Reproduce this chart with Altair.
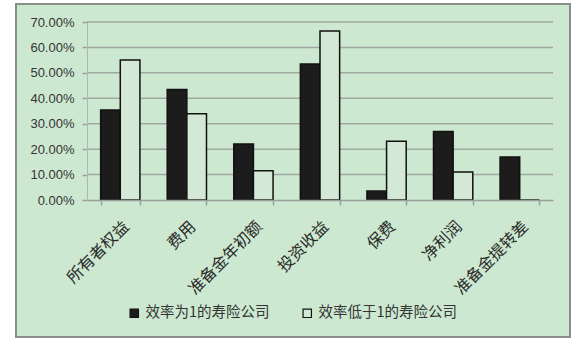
import altair as alt
import pandas as pd

categories = ["所有者权益", "费用", "准备金年初额", "投资收益", "保费", "净利润", "准备金提转差"]
series_names = ["效率为1的寿险公司", "效率低于1的寿险公司"]
eff_one = [0.354, 0.435, 0.220, 0.535, 0.035, 0.269, 0.169]
eff_low = [0.551, 0.339, 0.115, 0.665, 0.231, 0.110, 0.0]
y_ticks = [0.0, 0.1, 0.2, 0.3, 0.4, 0.5, 0.6, 0.7]

rows = []
for i, c in enumerate(categories):
    rows.append({"cat": c, "series": series_names[0], "value": eff_one[i]})
    rows.append({"cat": c, "series": series_names[1], "value": eff_low[i]})
df = pd.DataFrame(rows)

BG = "#cde8d0"
FONT_CJK = "Noto Sans CJK SC"

y_axis = alt.Axis(
    title=None, values=y_ticks, format=".2%", labelFont="Liberation Sans",
    labelFontSize=13, labelColor="#333333", grid=False, tickSize=5,
    tickColor="#9a9f9a", domainColor="#b0b8b0", tickWidth=1.5, labelPadding=8,
    labelOverlap=False, zindex=1,
)
y_scale = alt.Scale(domain=[0, 0.7])

frame = alt.Chart(pd.DataFrame({"d": [0]})).mark_rect(
    fill=BG, stroke="#8a8f8a", strokeWidth=2
).encode(
    x=alt.value(-71), x2=alt.value(483), y=alt.value(-18), y2=alt.value(315)
)

grid = alt.Chart(pd.DataFrame({"t": y_ticks[1:]})).mark_rule(
    color="#9fa8a0", strokeWidth=1.5
).encode(
    y=alt.Y("t:Q", scale=y_scale, axis=y_axis)
)

bars = alt.Chart(df).mark_bar(stroke="#111111", strokeWidth=1.5).encode(
    x=alt.X(
        "cat:N",
        sort=categories,
        scale=alt.Scale(paddingInner=0.41, paddingOuter=0.205),
        axis=alt.Axis(
            title=None, labelAngle=-45, labelFont=FONT_CJK, labelFontSize=16,
            labelColor="#2a2a2a", tickBand="extent", tickSize=5, tickColor="#9a9f9a",
            domainColor="#9a9f9a", domainWidth=1.5, tickWidth=1.5, labelPadding=13,
            grid=False, zindex=1,
        ),
    ),
    xOffset=alt.XOffset("series:N", sort=series_names, scale=alt.Scale(paddingInner=0, paddingOuter=0)),
    y=alt.Y("value:Q", scale=y_scale, axis=y_axis),
    color=alt.Color(
        "series:N",
        sort=series_names,
        scale=alt.Scale(domain=series_names, range=["#1c1c1c", "#d4e9d5"]),
        legend=alt.Legend(
            title=None, orient="none", direction="horizontal", legendX=40, legendY=284,
            symbolType="square", symbolSize=70, symbolStrokeColor="#111111",
            symbolStrokeWidth=1.2, labelFont=FONT_CJK, labelFontSize=14.5,
            labelColor="#333333", columnPadding=30, symbolOffset=0, labelOffset=4,
        ),
    ),
)

chart = alt.layer(frame, grid, bars).properties(
    width=466, height=178,
    autosize=alt.AutoSizeParams(type="none"),
    padding={"left": 87, "top": 22, "right": 32, "bottom": 145},
    background="white",
).configure_view(stroke=None)

chart.save("out.html", embed_options={"renderer": "svg", "actions": False})
